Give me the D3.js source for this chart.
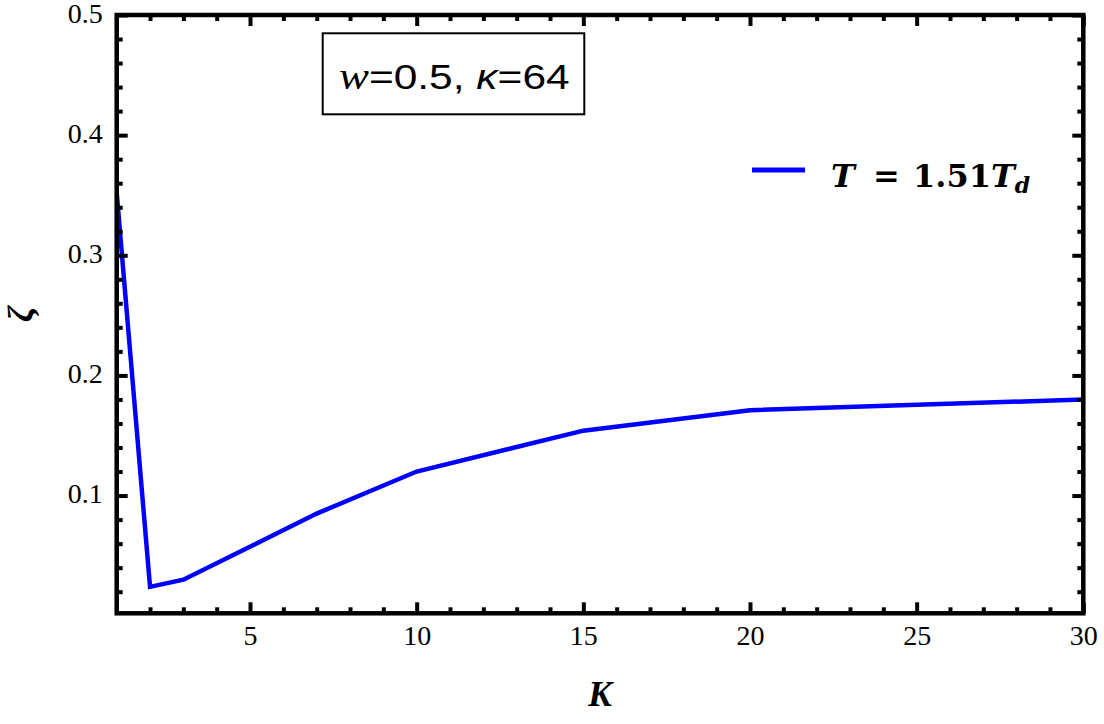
<!DOCTYPE html>
<html lang="en">
<head>
<meta charset="UTF-8">
<title>zeta vs K</title>
<script src="https://cdn.jsdelivr.net/npm/d3@7"></script>
<style>
    body { margin: 0; background: #fff; }
</style>
</head>
<body>
<svg id="chart" width="1104" height="724"></svg>
<script>
    // data
    let k_values = [1, 2, 3, 7, 10, 15, 20, 30]
    let zeta_values = [0.352, 0.024, 0.030, 0.085, 0.120, 0.154, 0.171, 0.180]
    let x_major = [5, 10, 15, 20, 25, 30]
    let x_minor = d3.range(2, 30).filter(d => d % 5 !== 0)
    let y_major = [0.1, 0.2, 0.3, 0.4, 0.5]
    let y_minor = d3.range(0.02, 0.5, 0.02).filter(d => Math.abs(d * 10 - Math.round(d * 10)) > 1e-6)
    let legend_label = "T = 1.51Td"
    let note_label = "w=0.5, κ=64"

    let svg = d3.select("#chart")

    let plot_left = 116.7, plot_right = 1083.3, plot_top = 15, plot_bottom = 613.3

    // scales
    let x_scale = d3.scaleLinear().domain([1, 30]).range([plot_left, plot_right])
    let y_scale = d3.scaleLinear().domain([0.002, 0.5]).range([plot_bottom, plot_top])

    // line
    let line = d3.line()
        .x((d, i) => x_scale(k_values[i]))
        .y(d => y_scale(d))

    svg.append("defs").append("clipPath").attr("id", "plot-clip")
        .append("rect")
        .attr("x", plot_left).attr("y", plot_top)
        .attr("width", plot_right - plot_left).attr("height", plot_bottom - plot_top)

    svg.append("path")
        .datum(zeta_values)
        .attr("clip-path", "url(#plot-clip)")
        .attr("d", line)
        .attr("fill", "none")
        .attr("stroke", "#0000ff")
        .attr("stroke-width", 4.5)
        .attr("stroke-linejoin", "miter")

    // axes: ticks point inward on all four sides
    function addAxis(axis, tx, ty) {
        let g = svg.append("g")
            .attr("transform", "translate(" + tx + "," + ty + ")")
            .call(axis)
        g.select(".domain").remove()
        g.selectAll(".tick line").attr("stroke", "#000").attr("stroke-width", 4)
        g.selectAll(".tick text")
            .attr("fill", "#000")
            .style("font-family", "'Liberation Serif', 'Times New Roman', serif")
            .style("font-size", "28px")
        return g
    }

    addAxis(d3.axisLeft(y_scale).tickValues(y_major).tickSize(-11).tickPadding(14)
        .tickFormat(d3.format(".1f")), plot_left, 0)
        .selectAll("text").attr("dy", "0.25em")
    addAxis(d3.axisLeft(y_scale).tickValues(y_minor).tickSize(-6).tickFormat(""), plot_left, 0)
    addAxis(d3.axisRight(y_scale).tickValues(y_major).tickSize(-11).tickFormat(""), plot_right, 0)
    addAxis(d3.axisRight(y_scale).tickValues(y_minor).tickSize(-6).tickFormat(""), plot_right, 0)

    addAxis(d3.axisBottom(x_scale).tickValues(x_major).tickSize(-11).tickPadding(12)
        .tickFormat(d3.format("d")), 0, plot_bottom)
    addAxis(d3.axisBottom(x_scale).tickValues(x_minor).tickSize(-6).tickFormat(""), 0, plot_bottom)
    addAxis(d3.axisTop(x_scale).tickValues(x_major).tickSize(-11).tickFormat(""), 0, plot_top)
    addAxis(d3.axisTop(x_scale).tickValues(x_minor).tickSize(-6).tickFormat(""), 0, plot_top)

    // frame
    svg.append("rect")
        .attr("x", plot_left).attr("y", plot_top)
        .attr("width", plot_right - plot_left).attr("height", plot_bottom - plot_top)
        .attr("fill", "none")
        .attr("stroke", "#000")
        .attr("stroke-width", 4.5)

    // axis labels
    svg.append("text")
        .attr("x", (plot_left + plot_right) / 2)
        .attr("y", 706)
        .attr("text-anchor", "middle")
        .style("font-family", "'Liberation Serif', serif")
        .style("font-weight", "bold")
        .style("font-style", "italic")
        .style("font-size", "36px")
        .text("K")

    svg.append("text")
        .attr("transform", "translate(33," + (plot_top + plot_bottom) / 2 + ") rotate(-90)")
        .attr("text-anchor", "middle")
        .style("font-family", "'Liberation Serif', serif")
        .style("font-weight", "bold")
        .style("font-style", "italic")
        .style("font-size", "36px")
        .text("ζ")

    // annotation box
    svg.append("rect")
        .attr("x", 322.7).attr("y", 33.3)
        .attr("width", 261.6).attr("height", 81)
        .attr("fill", "#fff")
        .attr("stroke", "#000")
        .attr("stroke-width", 2)

    let note = svg.append("text")
        .attr("transform", "translate(339,89) scale(1.18,1)")
        .style("font-family", "'Liberation Sans', Arial, sans-serif")
        .style("font-size", "36px")
        .style("white-space", "pre")
    let note_parts = [note_label.slice(0, 1), note_label.slice(1, 7), note_label.slice(7, 8), note_label.slice(8)]
    note.append("tspan").text(note_parts[0])
        .style("font-family", "'Liberation Serif', serif").style("font-style", "italic").style("font-size", "38px")
    note.append("tspan").text(note_parts[1])
    note.append("tspan").text(note_parts[2]).style("font-style", "italic")
    note.append("tspan").text(note_parts[3])

    // legend
    svg.append("line")
        .attr("x1", 752).attr("x2", 805)
        .attr("y1", 170).attr("y2", 170)
        .attr("stroke", "#0000ff")
        .attr("stroke-width", 5)

    let legend = svg.append("text")
        .attr("y", 186.7)
        .style("font-family", "'DejaVu Serif', serif")
        .style("font-weight", "bold")
        .style("font-size", "32px")
    legend.append("tspan").attr("x", 831).text(legend_label.slice(0, 1)).style("font-style", "italic")
    legend.append("tspan").attr("x", 873).text(legend_label.slice(2, 3))
    legend.append("tspan").attr("x", 913).text(legend_label.slice(4, 8))
    legend.append("tspan").text(legend_label.slice(8, 9)).style("font-style", "italic")
    legend.append("tspan").text(legend_label.slice(9)).style("font-style", "italic")
        .style("font-size", "22px").attr("dy", 6)
</script>
</body>
</html>
